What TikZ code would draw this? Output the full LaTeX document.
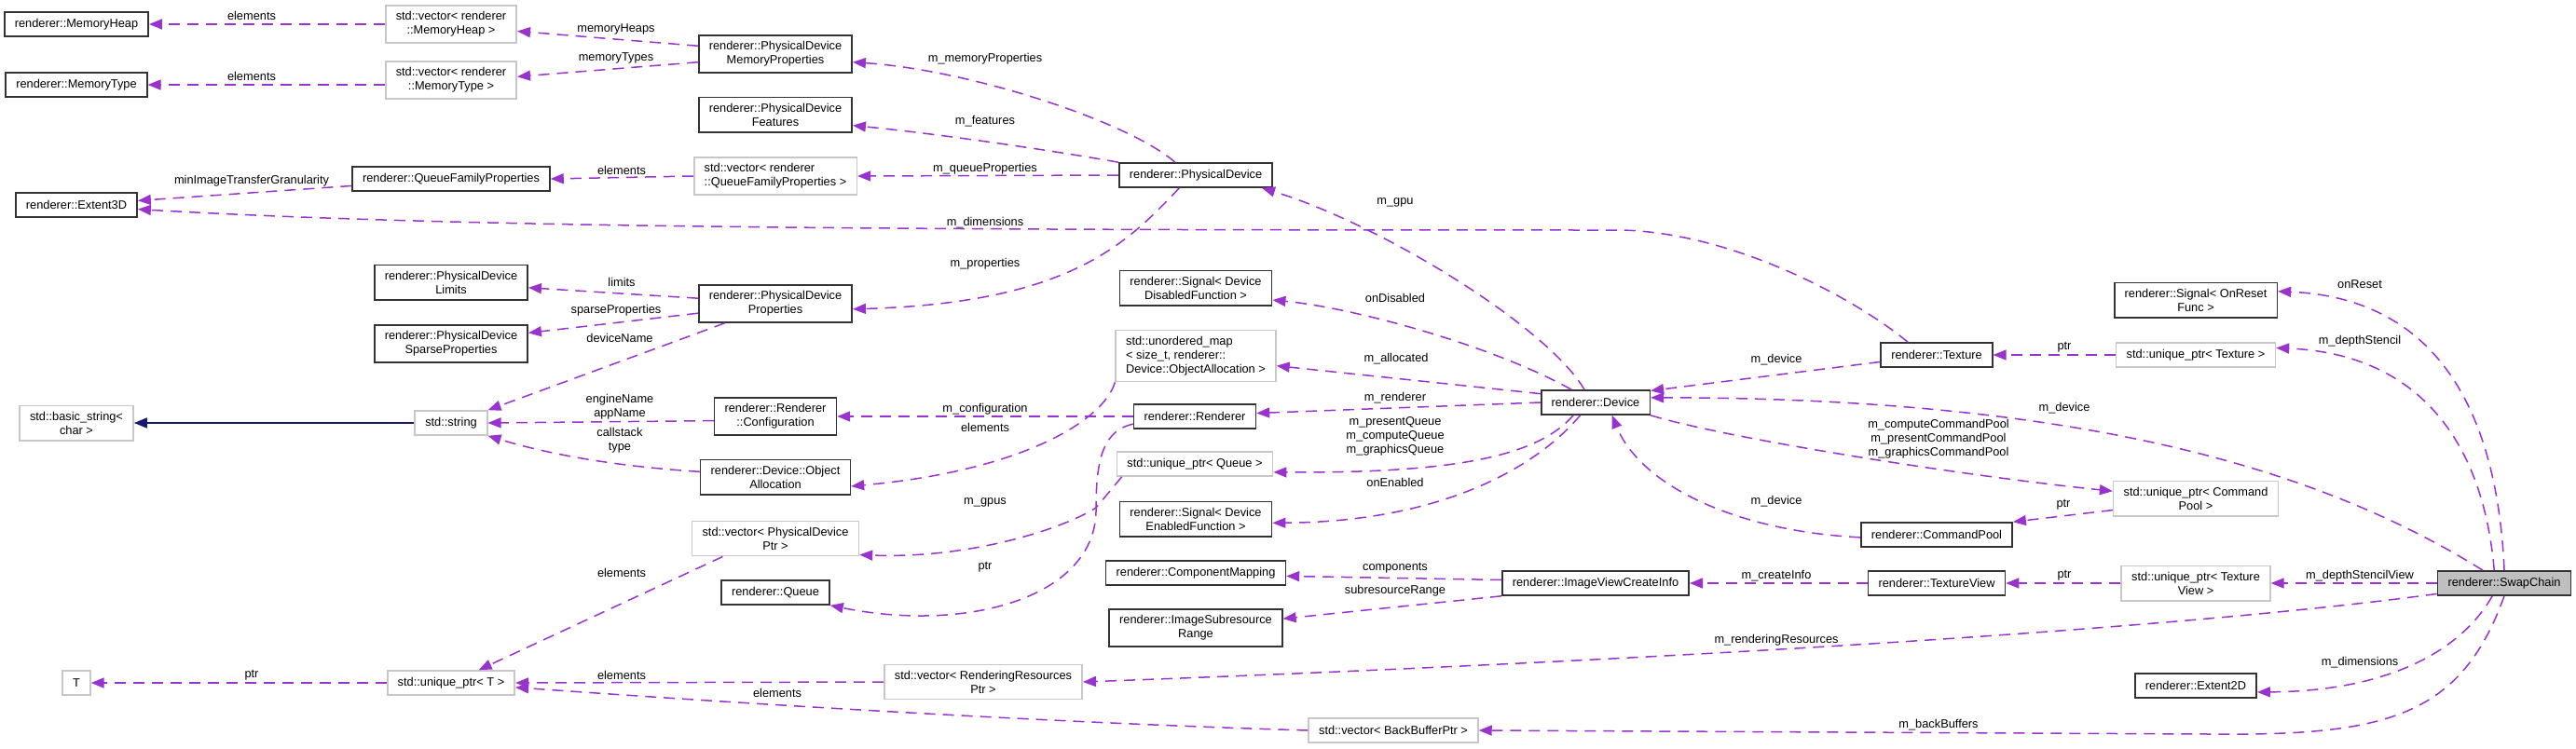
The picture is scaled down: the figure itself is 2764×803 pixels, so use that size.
\documentclass[tikz,border=0pt]{standalone}
\usepackage{fontspec}
\setmainfont{Liberation Sans}
\usetikzlibrary{arrows.meta}
\definecolor{dotpurple}{HTML}{9A32CD}
\definecolor{dotblue}{HTML}{191970}

\begin{document}
\begin{tikzpicture}[x=1pt,y=-1pt,
		cls/.style={draw=black!80,line width=1.6pt,fill=white,align=center,font=\fontsize{12.8}{15}\selectfont,inner xsep=11pt,inner ysep=6.5pt,minimum height=26pt},
		tpl/.style={cls,draw=black!22},
		lbl/.style={align=center,inner sep=0pt,font=\fontsize{12.8}{15}\selectfont},
		memb/.style={dotpurple,line width=1.5pt,dash pattern=on 12pt off 8pt,-{Triangle[length=14pt,width=11pt]}},
		inh/.style={dotblue,line width=1.5pt,-{Triangle[length=14pt,width=11pt]}}]
	\useasboundingbox (0,0) rectangle (2764,803);
	
	\node[cls] (mheap) at (82,26) {renderer::MemoryHeap};
	\node[cls] (mtype) at (82,91) {renderer::MemoryType};
	\node[cls] (ext3d) at (82,220) {renderer::Extent3D};
	\node[tpl] (bstr) at (82,454) {std::basic\_string<\\char >};
	\node[tpl] (tT) at (82,733) {T};
	
	\node[tpl] (vmheap) at (484,26) {std::vector< renderer\\::MemoryHeap >};
	\node[tpl] (vmtype) at (484,86) {std::vector< renderer\\::MemoryType >};
	\node[cls] (qfp) at (484,192) {renderer::QueueFamilyProperties};
	\node[cls] (pdlim) at (484,303) {renderer::PhysicalDevice\\Limits};
	\node[cls] (pdsparse) at (484,369) {renderer::PhysicalDevice\\SparseProperties};
	\node[tpl] (str) at (484,454) {std::string};
	\node[tpl] (uqT) at (484,733) {std::unique\_ptr< T >};
	
	\node[cls] (pdmem) at (832,58) {renderer::PhysicalDevice\\MemoryProperties};
	\node[cls] (pdfeat) at (832,123) {renderer::PhysicalDevice\\Features};
	\node[tpl,align=left] (vqfp) at (832,189) {std::vector< renderer\\::QueueFamilyProperties >};
	\node[cls] (pdprop) at (832,326) {renderer::PhysicalDevice\\Properties};
	\node[cls] (rconf) at (832,447) {renderer::Renderer\\::Configuration};
	\node[cls] (objalloc) at (832,512) {renderer::Device::Object\\Allocation};
	\node[tpl] (vpd) at (832,578) {std::vector< PhysicalDevice\\Ptr >};
	\node[cls] (queue) at (832,636) {renderer::Queue};
	\node[tpl] (vrr) at (1055,732) {std::vector< RenderingResources\\Ptr >};
	
	\node[cls] (pdev) at (1283,188) {renderer::PhysicalDevice};
	\node[cls] (sigdis) at (1283,309) {renderer::Signal< Device\\DisabledFunction >};
	\node[tpl,align=left] (umap) at (1283,382) {std::unordered\_map\\< size\_t, renderer::\\Device::ObjectAllocation >};
	\node[cls] (rend) at (1282,447) {renderer::Renderer};
	\node[tpl] (uqq) at (1282,498) {std::unique\_ptr< Queue >};
	\node[cls] (sigen) at (1283,557) {renderer::Signal< Device\\EnabledFunction >};
	\node[cls] (compmap) at (1283,615) {renderer::ComponentMapping};
	\node[cls] (isr) at (1283,674) {renderer::ImageSubresource\\Range};
	\node[tpl] (vbb) at (1495,784) {std::vector< BackBufferPtr >};
	
	\node[cls] (dev) at (1712,432) {renderer::Device};
	\node[cls] (ivci) at (1712,626) {renderer::ImageViewCreateInfo};
	
	\node[cls] (tex) at (2078,381) {renderer::Texture};
	\node[cls] (cpool) at (2078,574) {renderer::CommandPool};
	\node[cls] (tview) at (2078,626) {renderer::TextureView};
	
	\node[cls] (sigreset) at (2356,322) {renderer::Signal< OnReset\\Func >};
	\node[tpl] (uqtex) at (2356,381) {std::unique\_ptr< Texture >};
	\node[tpl] (uqcp) at (2356,535) {std::unique\_ptr< Command\\Pool >};
	\node[tpl] (uqtv) at (2356,626) {std::unique\_ptr< Texture\\View >};
	\node[cls] (ext2d) at (2356,736) {renderer::Extent2D};
	\node[cls,fill=black!25] (swap) at (2687,626) {renderer::SwapChain};
	
	\node[lbl] (lmheap) at (270,17) {elements};
	\node[lbl] (lmtype) at (270,82) {elements};
	\node[lbl] (lheaps) at (661,31) {memoryHeaps};
	\node[lbl] (ltypes) at (661,62) {memoryTypes};
	\node[lbl] (lgran) at (270,194) {minImageTransferGranularity};
	\node[lbl] (lqfp) at (667,183) {elements};
	\node[lbl] (llim) at (667,303) {limits};
	\node[lbl] (lsparse) at (661,333) {sparseProperties};
	\node[lbl] (ldevname) at (665,363) {deviceName};
	\node[lbl] (lnames) at (665,437) {engineName\\appName};
	\node[lbl] (lcall) at (665,473) {callstack\\type};
	\node[lbl] (lvpd) at (667,615) {elements};
	\node[lbl] (lptrT) at (270,725) {ptr};
	\node[lbl] (lvrr) at (667,725) {elements};
	\node[lbl] (lmemprop) at (1057,63) {m\_memoryProperties};
	\node[lbl] (lfeat) at (1057,130) {m\_features};
	\node[lbl] (lqprop) at (1057,181) {m\_queueProperties};
	\node[lbl] (ldim3) at (1057,239) {m\_dimensions};
	\node[lbl] (lprop) at (1057,283) {m\_properties};
	\node[lbl] (lconf) at (1057,439) {m\_configuration};
	\node[lbl] (lumap) at (1057,459) {elements};
	\node[lbl] (lgpus) at (1057,539) {m\_gpus};
	\node[lbl] (lptrq) at (1057,609) {ptr};
	\node[lbl] (lvbb) at (834,744) {elements};
	\node[lbl] (lgpu) at (1497,217) {m\_gpu};
	\node[lbl] (ldis) at (1497,320) {onDisabled};
	\node[lbl] (lalloc) at (1498,385) {m\_allocated};
	\node[lbl] (lrend) at (1497,427) {m\_renderer};
	\node[lbl] (lqueues) at (1497,468) {m\_presentQueue\\m\_computeQueue\\m\_graphicsQueue};
	\node[lbl] (len) at (1497,518) {onEnabled};
	\node[lbl] (lcomp) at (1497,610) {components};
	\node[lbl] (lsub) at (1497,634) {subresourceRange};
	\node[lbl] (ldevtex) at (1906,386) {m\_device};
	\node[lbl] (ldevcp) at (1906,538) {m\_device};
	\node[lbl] (lcinfo) at (1906,618) {m\_createInfo};
	\node[lbl] (lrres) at (1906,687) {m\_renderingResources};
	\node[lbl] (lpools) at (2080,471) {m\_computeCommandPool\\m\_presentCommandPool\\m\_graphicsCommandPool};
	\node[lbl] (lptrtex) at (2215,373) {ptr};
	\node[lbl] (ldevsw) at (2215,438) {m\_device};
	\node[lbl] (lptrcp) at (2214,542) {ptr};
	\node[lbl] (lptrtv) at (2215,618) {ptr};
	\node[lbl] (lbb) at (2080,778) {m\_backBuffers};
	\node[lbl] (lreset) at (2532,305) {onReset};
	\node[lbl] (ldepth) at (2532,366) {m\_depthStencil};
	\node[lbl] (ldepthv) at (2532,618) {m\_depthStencilView};
	\node[lbl] (ldim2) at (2532,711) {m\_dimensions};
	
	\draw[memb] (vmheap.west) -- (mheap.east);
	\draw[memb] (vmtype.west |- mtype.east) -- (mtype.east);
	\draw[memb] (pdmem.174) -- (vmheap.354);
	\draw[memb] (pdmem.186) -- (vmtype.3);
	\draw[memb] (qfp.184) -- (ext3d.4);
	\draw[memb] (vqfp.west) -- (qfp.east);
	\draw[memb] (tex.156) .. controls (1990,320) and (1860,250) .. (1740,247) .. controls (1000,247) and (500,245) .. (ext3d.356);
	\draw[memb] (pdev.148) .. controls (1210,130) and (1040,75) .. (pdmem.354);
	\draw[memb] (pdev.north west) .. controls (1120,160) and (1000,143) .. (pdfeat.352);
	\draw[memb] (pdev.west) -- (vqfp.east);
	\draw[memb] (pdev.218) .. controls (1210,260) and (1150,325) .. (pdprop.356);
	\draw[memb] (pdprop.176) -- (pdlim.356);
	\draw[memb] (pdprop.187) -- (pdsparse.8);
	\draw[memb] (pdprop.201) -- (str.north east);
	\draw[inh] (str.west) -- (bstr.east);
	\draw[memb] (rconf.184) -- (str.east);
	\draw[memb] (objalloc.176) .. controls (650,500) and (580,485) .. (str.south east);
	\draw[memb] (rend.west) -- (rconf.east);
	\draw[memb] (umap.south west) .. controls (1185,450) and (1100,505) .. (objalloc.353);
	\draw[memb] (rend.187) .. controls (1185,462) and (1176,490) .. (1176,545) .. controls (1140,568) and (1040,600) .. (vpd.349);
	\draw[memb] (uqq.190) -- (1176,545) .. controls (1178,640) and (1040,680) .. (queue.south east);
	\draw[memb] (dev.131) .. controls (1660,350) and (1480,240) .. (pdev.349);
	\draw[memb] (dev.152) .. controls (1600,370) and (1450,330) .. (sigdis.351);
	\draw[memb] (dev.171) -- (umap.353);
	\draw[memb] (dev.west) -- (rend.3);
	\draw[memb] (dev.210) .. controls (1650,490) and (1560,508) .. (uqq.354);
	\draw[memb] (dev.220) .. controls (1650,500) and (1550,560) .. (sigen.357);
	\draw[memb] (tex.187) -- (dev.12);
	\draw[memb] (swap.149) .. controls (2500,510) and (2250,427) .. (dev.5);
	\draw[memb] (cpool.182) .. controls (1860,570) and (1760,520) .. (dev.322);
	\draw[memb] (dev.south east) .. controls (1850,470) and (2100,510) .. (uqcp.175);
	\draw[memb] (uqcp.188) -- (cpool.north east);
	\draw[memb] (uqtex.west) -- (tex.east);
	\draw[memb] (swap.north) .. controls (2680,450) and (2620,320) .. (sigreset.6);
	\draw[memb] (swap.128) .. controls (2665,480) and (2600,380) .. (uqtex.5);
	\draw[memb] (swap.west) -- (uqtv.east);
	\draw[memb] (uqtv.west) -- (tview.east);
	\draw[memb] (tview.west) -- (ivci.east);
	\draw[memb] (ivci.178) -- (compmap.358);
	\draw[memb] (ivci.south west) -- (isr.6);
	\draw[memb] (swap.189) .. controls (2300,680) and (1700,712) .. (vrr.east);
	\draw[memb] (swap.227) .. controls (2640,700) and (2560,742) .. (ext2d.354);
	\draw[memb] (swap.south) .. controls (2640,770) and (2560,790) .. (2370,788) -- (vbb.east);
	\draw[memb] (vrr.west) -- (uqT.east);
	\draw[memb] (vbb.west) .. controls (1100,775) and (750,752) .. (uqT.356);
	\draw[memb] (vpd.199) -- (uqT.25);
	\draw[memb] (uqT.west) -- (tT.east);
\end{tikzpicture}
\end{document}
